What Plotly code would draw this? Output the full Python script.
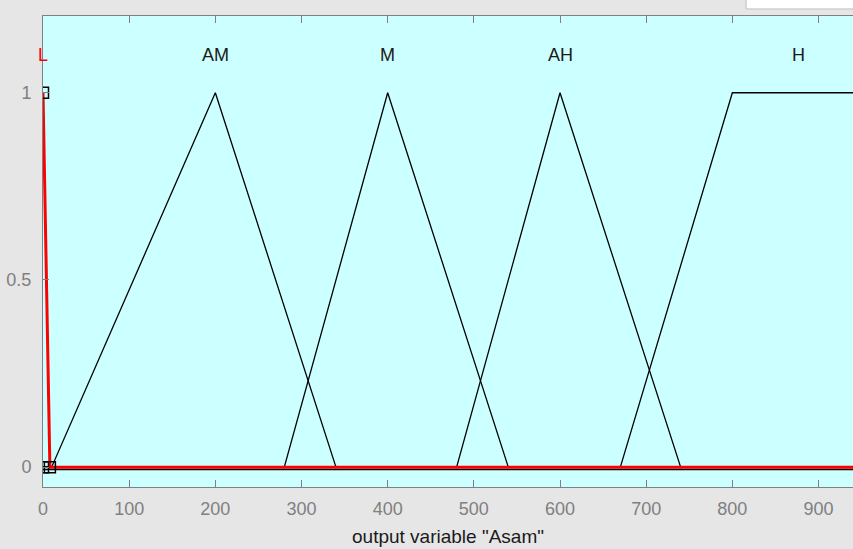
import plotly.graph_objects as go

# Membership functions of output variable "Asam"
mf_names = ["L", "AM", "M", "AH", "H"]
L_x = [0, 0, 8]           # trimf
AM_x = [10, 200, 340]     # trimf
M_x = [280, 400, 540]     # trimf
AH_x = [480, 600, 740]    # trimf
H_x = [670, 800, 1000, 1000]  # trapmf
label_x = [0, 200, 400, 600, 877]
label_y = 1.1
x_min, x_max = 0, 1000
x_ticks = [0, 100, 200, 300, 400, 500, 600, 700, 800, 900]
y_ticks = [0, 0.5, 1]
y_tick_text = ["0", "0.5", "1"]

fig = go.Figure()

def tri(p):
    return [x_min, p[0], p[1], p[2], x_max], [0, 0, 1, 0, 0]

def trap(p):
    return [x_min, p[0], p[1], p[2], p[3], x_max], [0, 0, 1, 1, 0, 0]

for p in [AM_x, M_x, AH_x]:
    xs, ys = tri(p)
    fig.add_trace(go.Scatter(x=xs, y=ys, mode="lines",
                             line=dict(color="black", width=1.3), hoverinfo="skip"))
xs, ys = trap(H_x)
fig.add_trace(go.Scatter(x=xs, y=ys, mode="lines",
                         line=dict(color="black", width=1.3), hoverinfo="skip"))
# black baseline slightly under red highlighted MF
fig.add_trace(go.Scatter(x=[x_min, x_max], y=[-0.006, -0.006], mode="lines",
                         line=dict(color="black", width=1.5), hoverinfo="skip"))
# highlighted L
fig.add_trace(go.Scatter(x=[L_x[1], L_x[2], x_max], y=[1, 0, 0], mode="lines",
                         line=dict(color="#ff0000", width=3), hoverinfo="skip"))
# selection handles
fig.add_trace(go.Scatter(x=[L_x[0], L_x[1], L_x[2]], y=[1, 0, 0], mode="markers",
                         marker=dict(symbol="square-open", size=11,
                                     line=dict(color="black", width=1.5), color="black"),
                         hoverinfo="skip"))

for i, name in enumerate(mf_names):
    fig.add_annotation(x=label_x[i], y=label_y, text=name, showarrow=False,
                       font=dict(family="Liberation Sans, Arial", size=18,
                                 color="#ff0000" if i == 0 else "#1a1a1a"))

fig.add_shape(type="rect", xref="paper", yref="paper", x0=0.868, x1=1.02,
              y0=1.015, y1=1.05, fillcolor="white", line=dict(color="#c0c0c0", width=1),
              layer="below")

fig.update_layout(
    width=853, height=549,
    margin=dict(l=43, r=0, t=16, b=62),
    paper_bgcolor="#e6e6e6",
    plot_bgcolor="#ccffff",
    showlegend=False,
    font=dict(family="Liberation Sans, Arial", size=18, color="#808080"),
    xaxis=dict(range=[0, 940], tickvals=x_ticks, ticks="inside", ticklen=7,
               tickcolor="#808080", showgrid=False, zeroline=False,
               showline=True, linecolor="#808080", mirror="ticks",
               ticklabelstandoff=5,
               tickfont=dict(size=18, color="#808080"),
               title=dict(text='output variable "Asam"', standoff=12,
                          font=dict(size=19, color="#1a1a1a"))),
    yaxis=dict(range=[-0.053, 1.205], tickvals=y_ticks, ticktext=y_tick_text,
               ticks="inside", ticklen=6, tickcolor="#808080",
               showgrid=False, zeroline=False, showline=True,
               linecolor="#808080", mirror=False, ticklabelstandoff=7,
               tickfont=dict(size=18, color="#808080")),
)

fig.write_html("out.html", config={"displayModeBar": False},
               post_script="document.body.style.margin='0';"
                           "document.body.style.background='#e6e6e6';")
